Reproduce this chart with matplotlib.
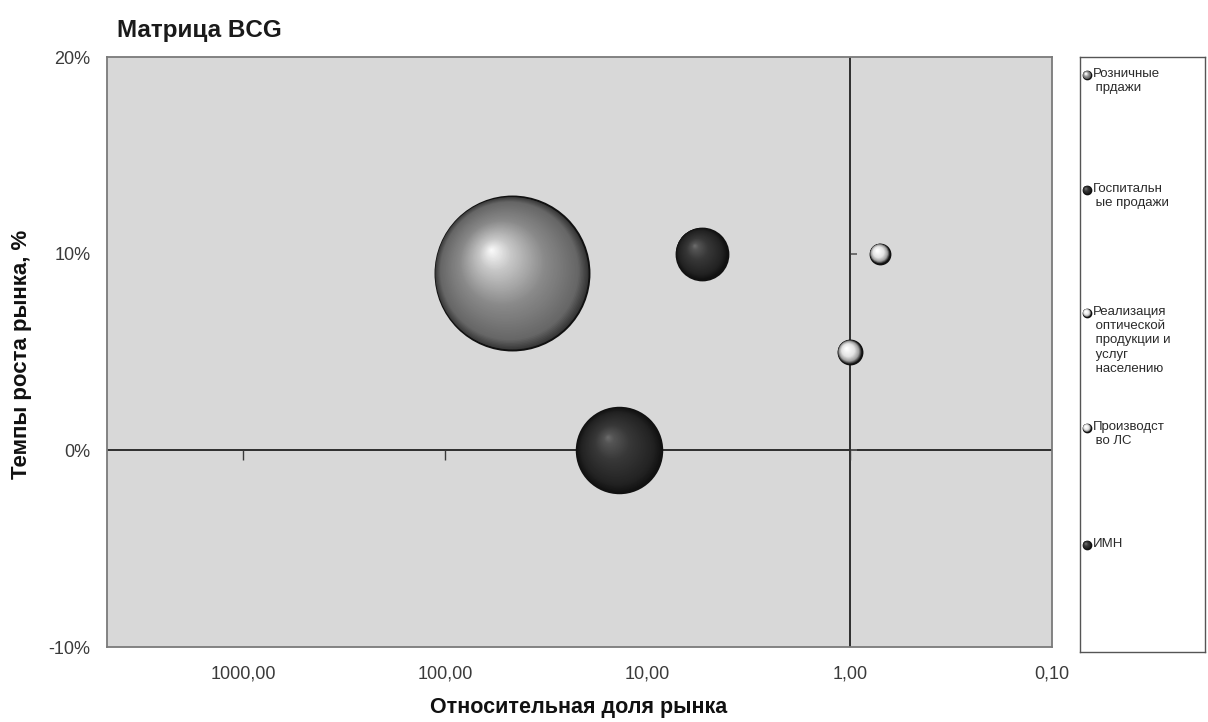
import numpy as np
import matplotlib
matplotlib.use("Agg")
import matplotlib.pyplot as plt
from matplotlib.transforms import ScaledTranslation

plt.rcParams['font.family'] = ['Liberation Sans', 'DejaVu Sans']

# ---- data -------------------------------------------------------------
categories = ["Розничные прдажи", "Госпитальные продажи",
              "Реализация оптической продукции и услуг населению",
              "Производство ЛС", "ИМН"]
legend_labels = ["Розничные\n прдажи", "Госпитальн\n ые продажи",
                 "Реализация\n оптической\n продукции и\n услуг\n населению",
                 "Производст\n во ЛС", "ИМН"]
rel_share = [47.0, 13.8, 0.71, 1.0, 5.4]      # relative market share
growth = [9.0, 0.0, 10.0, 5.0, 10.0]          # market growth, %
volume = [60.0, 18.5, 1.0, 1.45, 6.8]          # bubble size
tones = ["grey", "dark", "white", "white", "dark"]

x_ticks = [1000, 100, 10, 1, 0.1]
x_tick_labels = ["1000,00", "100,00", "10,00", "1,00", "0,10"]
y_ticks = [-10, 0, 10, 20]
y_tick_labels = ["-10%", "0%", "10%", "20%"]

# colour stops (outer rim -> highlight) for each tone
palettes = {
    "grey":  [(0.0, "#363636"), (0.1, "#666666"), (0.45, "#8a8a8a"), (0.8, "#c8c8c8"), (1.0, "#fafafa")],
    "dark":  [(0.0, "#111111"), (0.15, "#222222"), (0.6, "#383838"), (0.9, "#555555"), (1.0, "#6a6a6a")],
    "white": [(0.0, "#1a1a1a"), (0.2, "#a0a0a0"), (0.5, "#e4e4e4"), (1.0, "#ffffff")],
}

DPI = 100
fig = plt.figure(figsize=(12.08, 7.22), dpi=DPI)
fig.patch.set_facecolor("white")
ax = fig.add_axes([107 / 1208, 1 - 647 / 722, (1052 - 107) / 1208, (647 - 57) / 722])
ax.set_facecolor("#d8d8d8")
ax.set_xscale("log")
ax.set_xlim(4700, 0.1)
ax.set_ylim(-10, 20)

for s in ax.spines.values():
    s.set_color("#7a7a7a")
    s.set_linewidth(1.3)

ax.set_xticks(x_ticks)
ax.set_xticklabels(x_tick_labels)
ax.xaxis.set_minor_locator(matplotlib.ticker.NullLocator())
ax.set_yticks(y_ticks)
ax.set_yticklabels(y_tick_labels)
ax.tick_params(axis="both", length=0, labelsize=13, colors="#3a3a3a")
ax.tick_params(axis="x", pad=13)
ax.tick_params(axis="y", pad=12)

# axes crossing lines: growth 0 % and relative share 1
ax.axhline(0, color="#2e2e2e", lw=1.4, zorder=2)
ax.axvline(1, color="#2e2e2e", lw=1.4, zorder=2)
# small tick marks along the crossing lines
for xv in x_ticks[:-1]:
    ax.plot([xv], [0], marker="|", ms=7, mew=1.0, color="#3a3a3a",
            transform=ax.transData + ScaledTranslation(0, -3 / 72, fig.dpi_scale_trans), zorder=2)
for yv in y_ticks[1:-1]:
    ax.plot([1], [yv], marker="_", ms=5, mew=1.2, color="#5a5a5a",
            transform=ax.transData + ScaledTranslation(3 / 72, 0, fig.dpi_scale_trans), zorder=2)


def color_at(stops, t):
    ts = [p[0] for p in stops]
    rgb = np.array([matplotlib.colors.to_rgb(p[1]) for p in stops])
    return tuple(np.interp(t, ts, rgb[:, i]) for i in range(3))


def sphere(axis, x, y, radius_pt, tone, transform_base, n=70, z=3, edge=1.4):
    stops = palettes[tone]
    hx, hy = -0.26 * radius_pt, 0.30 * radius_pt
    for i, t in enumerate(np.linspace(0, 1, n)):
        r = radius_pt * (1 - t) + 0.6 * t
        off = ScaledTranslation(hx * t / 72, hy * t / 72, fig.dpi_scale_trans)
        axis.scatter([x], [y], s=(2 * r) ** 2, color=[color_at(stops, t)],
                     edgecolors="#111111" if i == 0 else "none",
                     linewidths=edge if i == 0 else 0,
                     transform=transform_base + off, zorder=z + i * 1e-3)


# bubbles: radius proportional to sqrt(volume)
k_pt = 9.94 * 72 / DPI
order = np.argsort(volume)[::-1]
for j in order:
    sphere(ax, rel_share[j], growth[j], k_pt * np.sqrt(volume[j]), tones[j], ax.transData)

# titles
fig.text(117 / 1208, 1 - 30 / 722, "Матрица BCG", fontsize=17.5, fontweight="bold",
         color="#1a1a1a", va="center", ha="left")
fig.text(22 / 1208, 1 - 354 / 722, "Темпы роста рынка, %", fontsize=16, fontweight="bold",
         rotation=90, va="center", ha="center", color="#111111")
fig.text(579 / 1208, 1 - 707 / 722, "Относительная доля рынка", fontsize=15.5, fontweight="bold",
         va="center", ha="center", color="#111111")

# legend panel
lg = fig.add_axes([1080 / 1208, 1 - 652 / 722, (1205 - 1080) / 1208, (652 - 57) / 722])
lg.set_xlim(0, 125)
lg.set_ylim(595, 0)
lg.set_xticks([])
lg.set_yticks([])
for s in lg.spines.values():
    s.set_color("#555555")
    s.set_linewidth(1.0)
entry_y = [18, 133, 256, 371, 488]
for lab, tone, ey in zip(legend_labels, tones, entry_y):
    sphere(lg, 7, ey, 3.0, tone, lg.transData, n=20, edge=1.0)
    lg.text(12.5, ey - 7, lab, fontsize=9.5, va="top", ha="left", color="#2a2a2a",
            linespacing=1.25)

fig.savefig("out.png", dpi=DPI)
